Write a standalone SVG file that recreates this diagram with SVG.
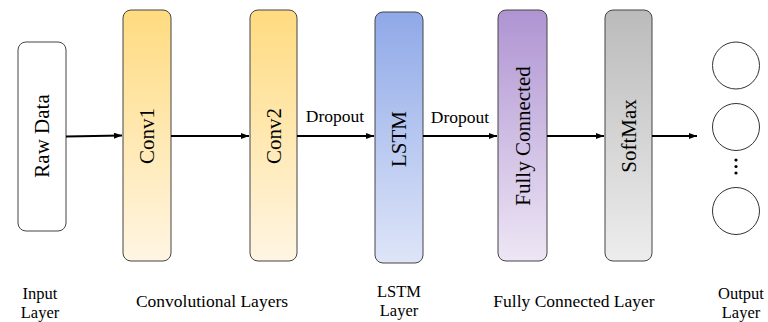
<svg xmlns="http://www.w3.org/2000/svg" width="768" height="322" viewBox="0 0 768 322">
  <defs>
    <linearGradient id="gConv" x1="0" y1="0" x2="0" y2="1">
      <stop offset="0" stop-color="#FFDB80"/>
      <stop offset="1" stop-color="#FFF5E3"/>
    </linearGradient>
    <linearGradient id="gLstm" x1="0" y1="0" x2="0" y2="1">
      <stop offset="0" stop-color="#8FA9E8"/>
      <stop offset="1" stop-color="#DEE5F8"/>
    </linearGradient>
    <linearGradient id="gFc" x1="0" y1="0" x2="0" y2="1">
      <stop offset="0" stop-color="#AF94D2"/>
      <stop offset="1" stop-color="#EEE6F5"/>
    </linearGradient>
    <linearGradient id="gSoft" x1="0" y1="0" x2="0" y2="1">
      <stop offset="0" stop-color="#BBBBBB"/>
      <stop offset="1" stop-color="#EDEDED"/>
    </linearGradient>
    <marker id="arrow" viewBox="0 0 8 6" refX="8" refY="3" markerWidth="8" markerHeight="6" markerUnits="userSpaceOnUse" orient="auto">
      <path d="M0,0 L8,3 L0,6 Z" fill="#000"/>
    </marker>
  </defs>
  <style>
    .box { stroke: #444; stroke-width: 1; }
    .lbl { font-family: "Liberation Serif", "DejaVu Serif", serif; font-size: 21px; fill: #000; text-anchor: middle; }
    .cap { font-family: "Liberation Serif", "DejaVu Serif", serif; font-size: 17.5px; fill: #000; text-anchor: middle; }
    .cap2 { font-family: "Liberation Serif", "DejaVu Serif", serif; font-size: 16.5px; fill: #000; text-anchor: middle; }
    .edge { stroke: #000; stroke-width: 2; fill: none; marker-end: url(#arrow); }
    .unit { fill: #fff; stroke: #333; stroke-width: 1; }
  </style>

  <g id="raw-data">
    <rect class="box" x="18" y="42" width="48" height="189" rx="8" fill="#fff"/>
    <text class="lbl" transform="translate(49,136) rotate(-90)">Raw Data</text>
  </g>

  <g id="conv1">
    <rect class="box" x="123" y="10" width="48" height="251" rx="8" fill="url(#gConv)"/>
    <text class="lbl" transform="translate(154,136) rotate(-90)">Conv1</text>
  </g>

  <g id="conv2">
    <rect class="box" x="250" y="10" width="47" height="251" rx="8" fill="url(#gConv)"/>
    <text class="lbl" transform="translate(280.5,136) rotate(-90)">Conv2</text>
  </g>

  <g id="lstm">
    <rect class="box" x="375" y="12" width="48" height="251" rx="8" fill="url(#gLstm)"/>
    <text class="lbl" transform="translate(406,139) rotate(-90)">LSTM</text>
  </g>

  <g id="fully-connected">
    <rect class="box" x="498" y="10" width="49" height="251" rx="8" fill="url(#gFc)"/>
    <text class="lbl" transform="translate(530,136) rotate(-90)">Fully Connected</text>
  </g>

  <g id="softmax">
    <rect class="box" x="605" y="10" width="47" height="251" rx="8" fill="url(#gSoft)"/>
    <text class="lbl" transform="translate(635.5,136) rotate(-90)">SoftMax</text>
  </g>

  <g id="output">
    <circle class="unit" cx="736" cy="65.5" r="23.5"/>
    <circle class="unit" cx="736" cy="127" r="23.5"/>
    <circle cx="736" cy="160" r="1.6" fill="#000"/>
    <circle cx="736" cy="166.5" r="1.6" fill="#000"/>
    <circle cx="736" cy="173" r="1.6" fill="#000"/>
    <circle class="unit" cx="736" cy="211" r="23.5"/>
  </g>

  <g id="connectors">
    <line class="edge" x1="66" y1="136.5" x2="122" y2="135.5"/>
    <line class="edge" x1="171" y1="136" x2="249" y2="136"/>
    <line class="edge" x1="297" y1="136" x2="374" y2="136"/>
    <text class="cap" x="335" y="122" font-size="18">Dropout</text>
    <line class="edge" x1="423" y1="136" x2="497" y2="136"/>
    <text class="cap" x="460" y="123" font-size="18">Dropout</text>
    <line class="edge" x1="547" y1="136" x2="604" y2="136"/>
    <line class="edge" x1="652" y1="136" x2="697" y2="136"/>
  </g>

  <g id="captions">
    <text class="cap2" x="40" y="299">Input</text>
    <text class="cap2" x="40" y="317.5">Layer</text>
    <text class="cap" x="212" y="307">Convolutional Layers</text>
    <text class="cap2" x="399" y="297">LSTM</text>
    <text class="cap2" x="399" y="315.5">Layer</text>
    <text class="cap" x="574" y="307">Fully Connected Layer</text>
    <text class="cap2" x="741" y="299">Output</text>
    <text class="cap2" x="741" y="317.5">Layer</text>
  </g>
</svg>
